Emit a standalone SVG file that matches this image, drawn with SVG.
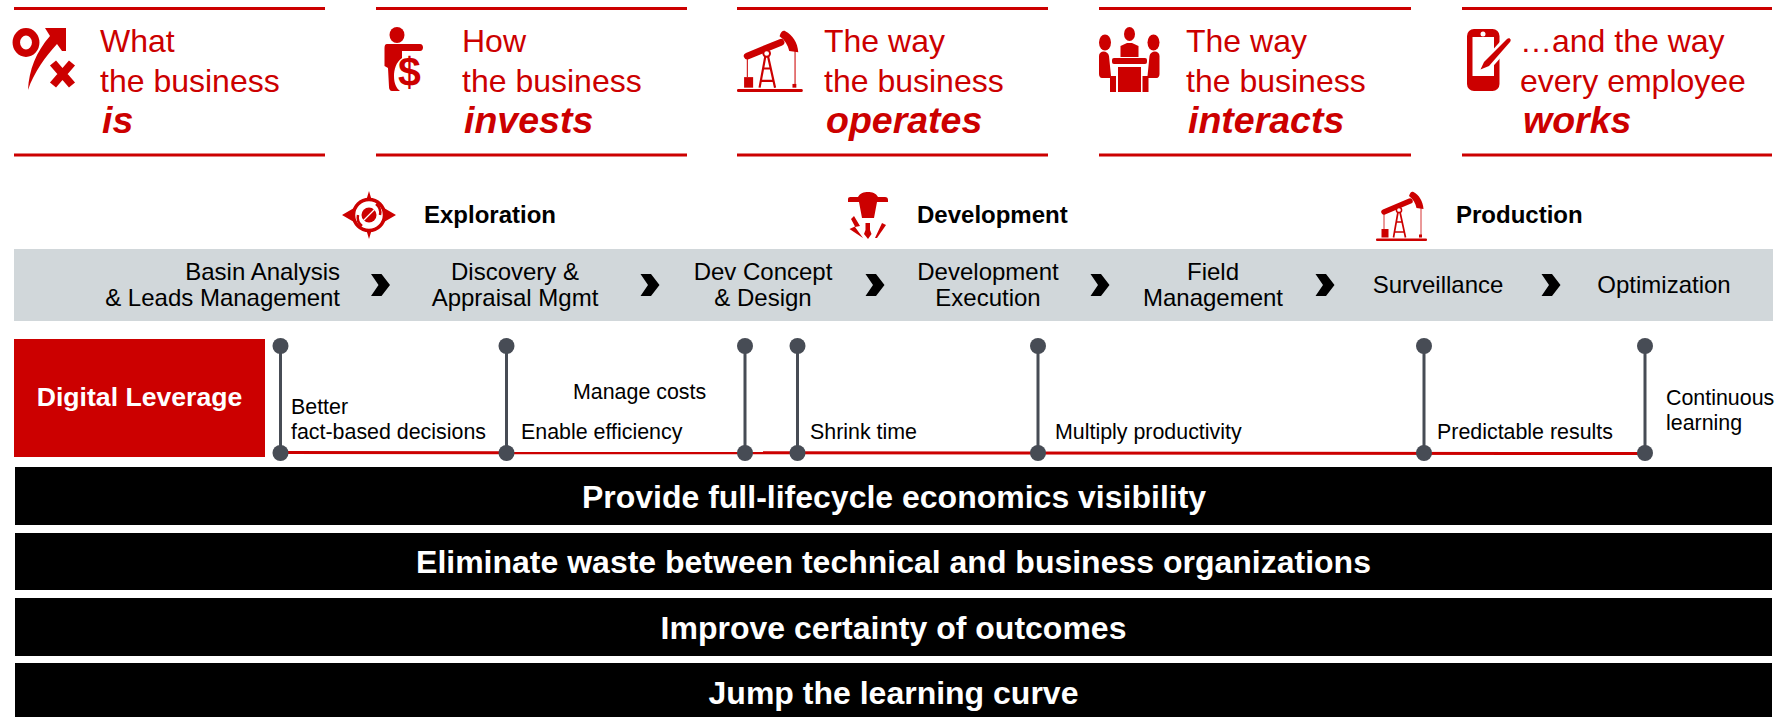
<svg xmlns="http://www.w3.org/2000/svg" xmlns:xlink="http://www.w3.org/1999/xlink" width="1781" height="717" viewBox="0 0 1781 717">
<style>
text{font-family:"Liberation Sans",Arial,sans-serif}
.h{font-size:32px;fill:#cc0000}
.hb{font-size:37.500px;font-weight:bold;font-style:italic;fill:#cc0000}
.rule{stroke:#cc0000;stroke-width:3;fill:none}
.phase{font-size:24px;font-weight:bold;fill:#000}
.step{font-size:24px;fill:#000;text-anchor:middle}
.lab{font-size:21.400px;fill:#000}
.bar{fill:#000}
.bart{font-size:32px;font-weight:bold;fill:#fff;text-anchor:middle}
.stem{stroke:#474c55;stroke-width:3}
.dot{fill:#474c55}
.red{fill:#cc0000}
</style>
<defs>
<path id="chev" d="M0 0H10.500L19 11L10.500 22H0L7.500 11Z" fill="#000"/>
<g id="jack">
<rect x="0" y="47.500" width="51" height="2.500" rx="1" class="red"/>
<rect x="5.500" y="38" width="7" height="8.500" class="red"/>
<rect x="43" y="43.500" width="3" height="3" class="red"/>
<path d="M8 21L34 10" stroke="#cc0000" stroke-width="5.500" stroke-linecap="round" fill="none"/>
<path d="M33 5C34 1 36 0 37.500 1C43 4 47 10 47.500 18L40.500 17C39.500 12 37 8 33 5Z" class="red"/>
<path d="M8 22V38M45 17V44" stroke="#cc0000" stroke-width="0.800" fill="none"/>
<circle cx="23" cy="19" r="2.600" fill="#fff" stroke="#cc0000" stroke-width="1.500"/>
<path d="M22 21L17.500 46.500M24 21L29.500 46.500M20.500 31H25.500M18.500 41H28.500" stroke="#cc0000" stroke-width="1.700" fill="none"/>
</g>
</defs>

<g id="head-is">
<path class="rule" d="M14 8.500H325M14 155H325"/>
<ellipse cx="26" cy="42.500" rx="9.700" ry="10.700" fill="none" stroke="#cc0000" stroke-width="7.500"/>
<path class="red" d="M45 28H66V51H62L57 44C46 56 34 72 28 90C29 70 36 52 50 36Z"/>
<path d="M53 63L72 85M72 63L53 85" stroke="#cc0000" stroke-width="8"/>
<text class="h" x="100" y="52">What</text><text class="h" x="100" y="92">the business</text>
<text class="hb" x="102" y="133">is</text>
</g>
<g id="head-invests">
<path class="rule" d="M376 8.500H687M376 155H687"/>
<ellipse cx="397" cy="35" rx="7.500" ry="8" class="red"/>
<path class="red" d="M387 44H420C424 44 424 51 420 51H402V58C396 62 394 70 394 76C394 83 396 88 400 91H392C390 91 389 89 389 87L388 68L384.500 66V48C384.500 46 385 44 387 44Z"/>
<text x="398" y="86" font-size="41" font-weight="bold" fill="#cc0000">$</text>
<text class="h" x="462" y="52">How</text><text class="h" x="462" y="92">the business</text>
<text class="hb" x="464" y="133">invests</text>
</g>
<g id="head-operates">
<path class="rule" d="M737 8.500H1048M737 155H1048"/>
<use xlink:href="#jack" href="#jack" transform="translate(737 30) scale(1.290 1.240)"/>
<text class="h" x="824" y="52">The way</text><text class="h" x="824" y="92">the business</text>
<text class="hb" x="826" y="133">operates</text>
</g>
<g id="head-interacts">
<path class="rule" d="M1099 8.500H1411M1099 155H1411"/>
<ellipse cx="1129.500" cy="34" rx="5.500" ry="7" class="red"/>
<path class="red" d="M1120.500 57V46L1127 43H1132L1138.500 46V57Z"/>
<rect x="1112" y="58" width="35" height="6" rx="2" class="red"/>
<rect x="1118" y="67" width="23" height="25" class="red"/>
<ellipse cx="1105" cy="42.500" rx="6" ry="8" class="red"/><ellipse cx="1153.500" cy="42.500" rx="6" ry="8" class="red"/>
<path class="red" d="M1099 56C1099 50 1108 50 1109 56L1111 76H1116V92H1110V78H1102C1100 78 1099 76 1099 74Z"/>
<path class="red" d="M1159.500 56C1159.500 50 1150.500 50 1149.500 56L1147.500 76H1142.500V92H1148.500V78H1156.500C1158.500 78 1159.500 76 1159.500 74Z"/>
<text class="h" x="1186" y="52">The way</text><text class="h" x="1186" y="92">the business</text>
<text class="hb" x="1188" y="133">interacts</text>
</g>
<g id="head-works">
<path class="rule" d="M1462 8.500H1772M1462 155H1772"/>
<rect x="1467" y="29" width="32.500" height="62" rx="7" class="red"/>
<rect x="1472.500" y="37" width="21.500" height="39" fill="#fff"/>
<circle cx="1483" cy="34" r="2.500" fill="#fff"/>
<path d="M1509 40L1484 68" stroke="#fff" stroke-width="11" fill="none"/>
<path class="red" d="M1507 39C1509 37 1512 39 1510 42L1489 66L1480.500 69.500L1484 62Z"/>
<text class="h" x="1520" y="52">…and the way</text><text class="h" x="1520" y="92">every employee</text>
<text class="hb" x="1523" y="133">works</text>
</g>

<g id="phase-exploration">
<path class="red" d="M369 191L372 201L396 215L372 229L369 239L366 229L342 215L366 201Z"/>
<circle cx="369" cy="215" r="15.500" fill="#fff" stroke="#cc0000" stroke-width="3.500"/>
<path d="M376 204A11 11 0 0 1 380 215M362 226A11 11 0 0 1 358 215" fill="none" stroke="#cc0000" stroke-width="2.500"/>
<ellipse cx="369" cy="215" rx="7.500" ry="7.500" class="red"/>
<path d="M363 221L375 209" stroke="#fff" stroke-width="1.200"/>
<text class="phase" x="424" y="223">Exploration</text>
</g>
<g id="phase-development">
<path class="red" d="M848 199C848 197 850 197 852 197H858C860 193 864 192 868 192C872 192 876 193 878 197H885C887 197 888 198 888 200V202H877L874 218H862L859 202H848Z"/>
<path class="red" d="M865.500 223H870V230L871.500 234L868 239L864 234L865.500 230Z"/>
<path class="red" d="M854 216L860 226L855 227L863 238L849.500 229L855 226.500L851 219Z"/>
<path class="red" d="M882 223L886 225L877 238H875Z"/>
<text class="phase" x="917" y="223">Development</text>
</g>
<g id="phase-production">
<use xlink:href="#jack" href="#jack" transform="translate(1376 191)"/>
<text class="phase" x="1456" y="223">Production</text>
</g>

<g id="process">
<rect x="14" y="249" width="1759" height="72" fill="#d1d7da"/>
<text class="step" style="text-anchor:end"><tspan x="340" y="280">Basin Analysis</tspan><tspan x="340" y="306">&amp; Leads Management</tspan></text>
<text class="step"><tspan x="515" y="280">Discovery &amp;</tspan><tspan x="515" y="306">Appraisal Mgmt</tspan></text>
<text class="step"><tspan x="763" y="280">Dev Concept</tspan><tspan x="763" y="306">&amp; Design</tspan></text>
<text class="step"><tspan x="988" y="280">Development</tspan><tspan x="988" y="306">Execution</tspan></text>
<text class="step"><tspan x="1213" y="280">Field</tspan><tspan x="1213" y="306">Management</tspan></text>
<text class="step" x="1438" y="293">Surveillance</text>
<text class="step" x="1664" y="293">Optimization</text>
<use xlink:href="#chev" href="#chev" x="371" y="274"/>
<use xlink:href="#chev" href="#chev" x="640.500" y="274"/>
<use xlink:href="#chev" href="#chev" x="865.500" y="274"/>
<use xlink:href="#chev" href="#chev" x="1090.500" y="274"/>
<use xlink:href="#chev" href="#chev" x="1315.500" y="274"/>
<use xlink:href="#chev" href="#chev" x="1541.500" y="274"/>
</g>

<g id="digital-leverage">
<rect x="14" y="339" width="251" height="118" fill="#cc0000"/>
<text x="139.500" y="406" font-size="26.600" font-weight="bold" fill="#fff" text-anchor="middle">Digital Leverage</text>
</g>

<g id="connectors">
<path d="M280.500 452.500L1645 453.500" stroke="#cc0000" stroke-width="3" fill="none"/>
<path class="stem" d="M280.500 346V453M506.500 346V453M745 346V453M797.500 346V453M1038 346V453M1424 346V453M1645 346V453"/>
</g>
<g id="milestones">
<g id="m1"><circle class="dot" cx="280.500" cy="346" r="8"/><circle class="dot" cx="280.500" cy="453" r="8"/></g>
<g id="m2"><circle class="dot" cx="506.500" cy="346" r="8"/><circle class="dot" cx="506.500" cy="453" r="8"/></g>
<g id="m3"><circle class="dot" cx="745" cy="346" r="8"/><circle class="dot" cx="745" cy="453" r="8"/></g>
<g id="m4"><circle class="dot" cx="797.500" cy="346" r="8"/><circle class="dot" cx="797.500" cy="453" r="8"/></g>
<g id="m5"><circle class="dot" cx="1038" cy="346" r="8"/><circle class="dot" cx="1038" cy="453" r="8"/></g>
<g id="m6"><circle class="dot" cx="1424" cy="346" r="8"/><circle class="dot" cx="1424" cy="453" r="8"/></g>
<g id="m7"><circle class="dot" cx="1645" cy="346" r="8"/><circle class="dot" cx="1645" cy="453" r="8"/></g>
</g>
<g id="labels">
<text class="lab"><tspan x="291" y="414">Better</tspan><tspan x="291" y="439">fact-based decisions</tspan></text>
<text class="lab" x="573" y="399">Manage costs</text>
<text class="lab" x="521" y="439">Enable efficiency</text>
<text class="lab" x="810" y="439">Shrink time</text>
<text class="lab" x="1055" y="439">Multiply productivity</text>
<text class="lab" x="1437" y="439">Predictable results</text>
<text class="lab"><tspan x="1666" y="405">Continuous</tspan><tspan x="1666" y="429.500">learning</tspan></text>
</g>

<g id="bar1"><rect class="bar" x="15" y="467" width="1757" height="58"/><text class="bart" x="894" y="508">Provide full-lifecycle economics visibility</text></g>
<g id="bar2"><rect class="bar" x="15" y="533" width="1757" height="57"/><text class="bart" x="893.500" y="573">Eliminate waste between technical and business organizations</text></g>
<g id="bar3"><rect class="bar" x="15" y="598" width="1757" height="58"/><text class="bart" x="893.500" y="639">Improve certainty of outcomes</text></g>
<g id="bar4"><rect class="bar" x="15" y="663" width="1757" height="54"/><text class="bart" x="893.500" y="704">Jump the learning curve</text></g>
</svg>
